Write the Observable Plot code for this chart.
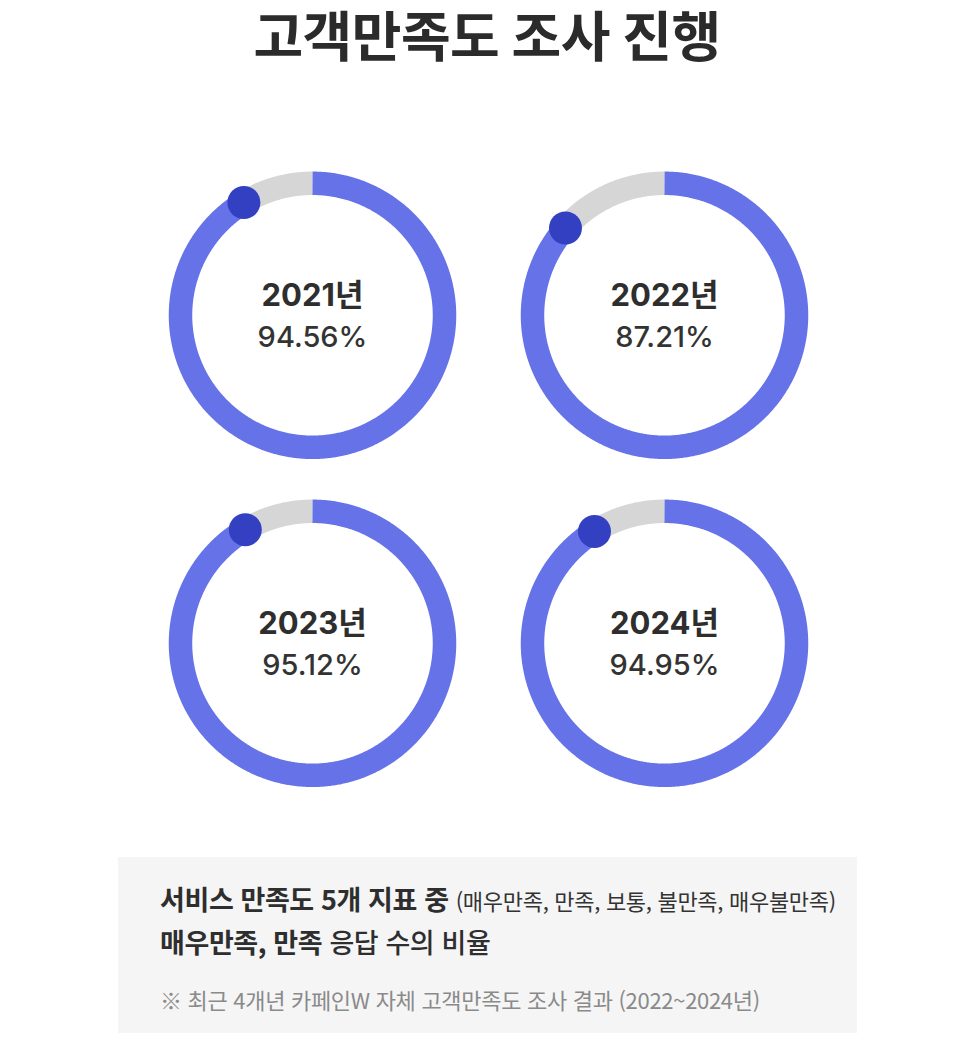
<!DOCTYPE html>
<html lang="ko">
<head>
<meta charset="utf-8">
<script src="https://cdn.jsdelivr.net/npm/d3@7"></script>
<script src="https://cdn.jsdelivr.net/npm/@observablehq/plot@0.6"></script>
<style>
  html, body { margin: 0; padding: 0; background: #fff; }
  body { width: 960px; font-family: Inter, "Noto Sans CJK KR", sans-serif; color: #2e2e2e; }
  #title { height: 80px; margin: 0; text-align: center; font-family: Inter, "Noto Sans CJK KR", sans-serif;
           font-weight: 700; font-size: 54px; line-height: 76px; letter-spacing: -0.5px; color: #2b2b2b; padding-left: 14px; }
  #chart svg { display: block; }
  #note { margin: 37px 0 0 118px; width: 739px; height: 176px; box-sizing: border-box; background: #f5f5f5;
          padding: 21px 0 0 42px; font-family: "Noto Sans CJK KR", Inter, sans-serif; }
  #note .l1, #note .l2 { font-size: 27px; font-weight: 700; line-height: 42px; color: #2e2e2e; letter-spacing: -0.4px; white-space: nowrap; }
  #note .small { font-size: 22px; font-weight: 400; color: #333; letter-spacing: -0.3px; }
  #note .l2 .reg { font-weight: 500; }
  #note .l3 { margin-top: 20px; font-size: 22px; color: #8a8a8a; letter-spacing: -0.3px; white-space: nowrap; }
</style>
</head>
<body>
<div id="title">고객만족도 조사 진행</div>
<div id="chart"></div>
<div id="note">
  <div class="l1">서비스 만족도 5개 지표 중 <span class="small">(매우만족, 만족, 보통, 불만족, 매우불만족)</span></div>
  <div class="l2">매우만족, 만족 <span class="reg">응답 수의 비율</span></div>
  <div class="l3">※ 최근 4개년 카페인W 자체 고객만족도 조사 결과 (2022~2024년)</div>
</div>
<script>
// ---- data ----
const years = ["2021년", "2022년", "2023년", "2024년"];
const rates = [94.56, 87.21, 95.12, 94.95];          // labelled satisfaction rate (%)
const arcFilled = [91.3, 86.5, 91.5, 91.1];          // extent of the blue arc as drawn in the picture (% of circle)

// ---- layout (2 x 2 grid, units of ring radius) ----
const Sx = 352 / 132, Sy = 328 / 132, pad = 1.1, unit = 132;
const rings = years.map((year, i) => ({
  year, rate: rates[i], filled: arcFilled[i],
  cx: (i % 2) * Sx, cy: -Math.floor(i / 2) * Sy
}));

function arcPoints(r, from, to) {
  const pts = [];
  const a0 = from / 100 * 2 * Math.PI, a1 = to / 100 * 2 * Math.PI;
  const n = Math.max(2, Math.ceil((a1 - a0) / (Math.PI / 360)));
  for (let k = 0; k <= n; k++) {
    const a = a0 + (a1 - a0) * k / n;
    pts.push({year: r.year, x: r.cx + Math.sin(a), y: r.cy + Math.cos(a)});
  }
  return pts;
}
const grayArcs = rings.flatMap(r => arcPoints(r, r.filled, 100));
const blueArcs = rings.flatMap(r => arcPoints(r, 0, r.filled));
const ends = rings.map(r => {
  const a = r.filled / 100 * 2 * Math.PI;
  return {year: r.year, x: r.cx + Math.sin(a), y: r.cy + Math.cos(a)};
});

const xw = (Sx + 2 * pad) * unit, yh = (Sy + 2 * pad) * unit;
const marginLeft = 312 - pad * unit;
const marginTop = 314.8 - 80 - pad * unit;
const height = 740;

const chart = Plot.plot({
  width: 960,
  height,
  marginLeft,
  marginRight: 960 - marginLeft - xw,
  marginTop,
  marginBottom: height - marginTop - yh,
  x: {domain: [-pad, Sx + pad], axis: null},
  y: {domain: [-Sy - pad, pad], axis: null},
  style: {fontFamily: 'Inter, "Noto Sans CJK KR", sans-serif', background: "transparent"},
  marks: [
    Plot.line(grayArcs, {x: "x", y: "y", z: "year", stroke: "#d6d6d6", strokeWidth: 23.5, strokeLinecap: "butt", strokeLinejoin: "round", curve: "linear"}),
    Plot.line(blueArcs, {x: "x", y: "y", z: "year", stroke: "#6672e8", strokeWidth: 23.5, strokeLinecap: "butt", strokeLinejoin: "round", curve: "linear"}),
    Plot.dot(ends, {x: "x", y: "y", r: 16.5, fill: "#3340c2", stroke: "none"}),
    Plot.text(rings, {x: "cx", y: "cy", text: "year", dy: -19, fontSize: 31, fontWeight: 700, fill: "#2e2e2e"}),
    Plot.text(rings, {x: "cx", y: "cy", text: d => d.rate.toFixed(2) + "%", dy: 22, fontSize: 29, fontWeight: 500, fill: "#333"})
  ]
});
document.getElementById("chart").append(chart);
</script>
</body>
</html>
